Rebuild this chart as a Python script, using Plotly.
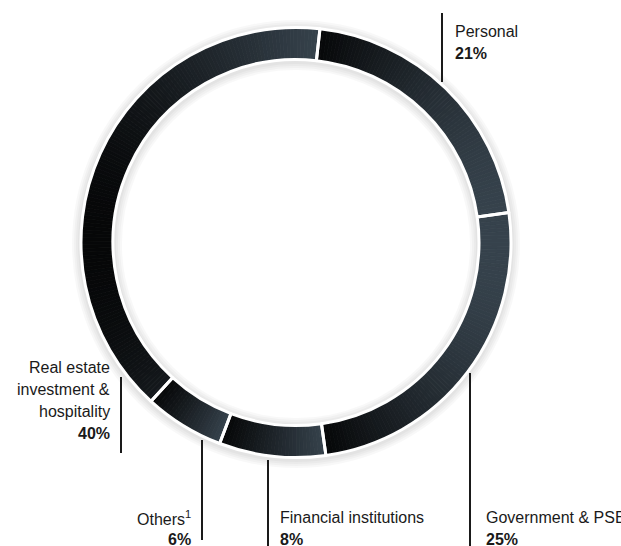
import math
import plotly.graph_objects as go

# ---- data ----
labels = ["Personal", "Government & PSE", "Financial institutions", "Others", "Real estate investment & hospitality"]
values = [21, 25, 8, 6, 40]
label_lines = [["Personal"], ["Government & PSE"], ["Financial institutions"],
               ["Others<sup>1</sup>"], ["Real estate", "investment &", "hospitality"]]

# ---- layout constants (pixels) ----
W, H = 621, 546
CX, CY = 296, 242.5
R_OUT, R_IN = 215, 183
ROT = 6.4
DARK = (6, 7, 8)
LIGHT = (54, 66, 76)
FONT = "Liberation Sans, Arial, sans-serif"
FS = 16


def dom(cx, cy, r):
    return dict(x=[(cx - r) / W, (cx + r) / W], y=[1 - (cy + r) / H, 1 - (cy - r) / H])


def mix(t):
    t = max(0.0, min(1.0, t))
    c = [round(DARK[i] + (LIGHT[i] - DARK[i]) * t) for i in range(3)]
    return "rgb(%d,%d,%d)" % tuple(c)


fig = go.Figure()

# soft shadow rings behind
for d in [9, 7, 5, 3]:
    fig.add_trace(go.Pie(
        values=[1], labels=["shadow%d" % d], domain=dom(CX, CY + 1.5, R_OUT + d),
        hole=(R_IN - d) / (R_OUT + d), sort=False, textinfo="none", hoverinfo="skip",
        marker=dict(colors=["rgba(0,0,0,0.028)"], line=dict(width=0)), showlegend=False))

# gradient ring built from sub-slices of each data value
total = sum(values)
sub_vals, sub_cols, sub_labels = [], [], []
start = ROT
for lab, v in zip(labels, values):
    span = 360.0 * v / total
    samples = [math.sin(math.radians(start + span * k / 200)) for k in range(201)]
    xmin, xmax = min(samples), max(samples)
    n = max(4, int(round(span)))
    for k in range(n):
        mid = start + span * (k + 0.5) / n
        x = math.sin(math.radians(mid))
        t = (x - xmin) / (xmax - xmin) if xmax > xmin else 0.5
        sub_vals.append(v / n)
        sub_cols.append(mix(t))
        sub_labels.append("%s_%d" % (lab, k))
    start += span

fig.add_trace(go.Pie(
    values=sub_vals, labels=sub_labels, domain=dom(CX, CY, R_OUT), hole=R_IN / R_OUT,
    sort=False, direction="clockwise", rotation=ROT, textinfo="none", hoverinfo="skip",
    marker=dict(colors=sub_cols, line=dict(color=sub_cols, width=0.8)), showlegend=False))

# data pie on top: white separators
fig.add_trace(go.Pie(
    values=values, labels=labels, domain=dom(CX, CY, R_OUT), hole=R_IN / R_OUT,
    sort=False, direction="clockwise", rotation=ROT, textinfo="none",
    marker=dict(colors=["rgba(0,0,0,0)"] * len(values), line=dict(color="white", width=3)),
    showlegend=False))

# label placement: (text x, anchor, first baseline y, line x, line y0, line y1)
place = [
    (452.7, "left", 37, 442, 13, 82),
    (484, "left", 523, 470, 373, 546),
    (277.7, "left", 523, 268, 460, 546),
    (193, "right", 523, 202, 440, 540),
    (112, "right", 373, 121, 377, 453),
]
LS = 22
anns, shapes = [], []
for lines, v, (tx, anc, by, lx, ly0, ly1) in zip(label_lines, values, place):
    rows = lines + ["<b>%d%%</b>" % v]
    for i, row in enumerate(rows):
        b = by + i * LS
        anns.append(dict(x=tx / W, y=1 - (b - 5.5) / H, xref="paper", yref="paper",
                         text=row, showarrow=False, xanchor=anc, yanchor="middle",
                         font=dict(family=FONT, size=FS, color="#1a1a1a")))
    shapes.append(dict(type="line", xref="paper", yref="paper",
                       x0=lx / W, x1=lx / W, y0=1 - ly0 / H, y1=1 - ly1 / H,
                       line=dict(color="#1a1a1a", width=2)))

fig.update_layout(width=W, height=H, margin=dict(l=0, r=0, t=0, b=0),
                  paper_bgcolor="white", plot_bgcolor="white",
                  annotations=anns, shapes=shapes, showlegend=False)

fig.write_html("out.html")
